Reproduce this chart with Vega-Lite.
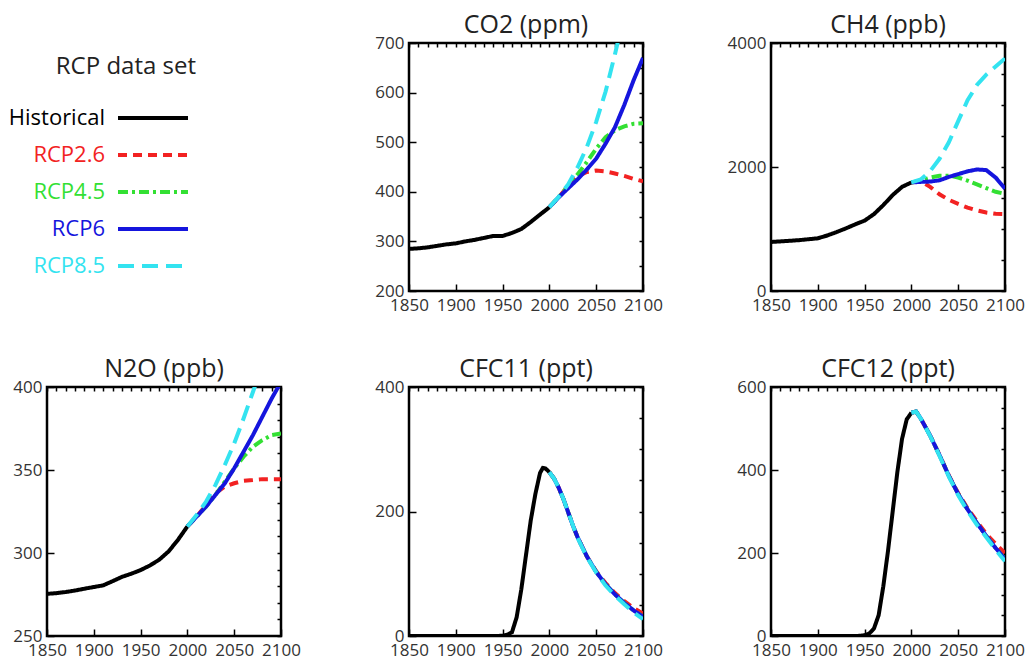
{
  "$schema": "https://vega.github.io/schema/vega-lite/v6.json",
  "padding": {"left": 11, "top": 11, "right": 0, "bottom": 3},
  "background": "white",
  "bounds": "flush",
  "config": {
    "font": "Open Sans",
    "view": {"stroke": "#000", "strokeWidth": 2.5},
    "axis": {"grid": false, "domain": false, "title": null, "labelFontSize": 17, "labelColor": "#333", "tickColor": "#000", "tickWidth": 1.5, "labelFlush": false, "labelOverlap": false},
    "title": {"fontSize": 25, "fontWeight": "normal", "color": "#222", "offset": -4},
    "legend": {"orient": "none", "legendX": 9, "legendY": 12, "labelAlign": "right", "labelOffset": -64, "labelFontSize": 22, "labelLimit": 300, "titleFontSize": 24, "titleFontWeight": "normal", "titleColor": "#222", "titleAnchor": "end", "titlePadding": 23, "symbolType": "M-2.5,0H2.5", "symbolSize": 784, "symbolStrokeWidth": 4, "rowPadding": 10}
  },
  "data": {"values": [
    {"gas":"CO2","series":"Historical","year":1850,"value":285},
    {"gas":"CO2","series":"Historical","year":1860,"value":286},
    {"gas":"CO2","series":"Historical","year":1870,"value":288},
    {"gas":"CO2","series":"Historical","year":1880,"value":291},
    {"gas":"CO2","series":"Historical","year":1890,"value":294},
    {"gas":"CO2","series":"Historical","year":1900,"value":296},
    {"gas":"CO2","series":"Historical","year":1910,"value":300},
    {"gas":"CO2","series":"Historical","year":1920,"value":303},
    {"gas":"CO2","series":"Historical","year":1930,"value":307},
    {"gas":"CO2","series":"Historical","year":1940,"value":311},
    {"gas":"CO2","series":"Historical","year":1950,"value":311},
    {"gas":"CO2","series":"Historical","year":1960,"value":317},
    {"gas":"CO2","series":"Historical","year":1970,"value":325},
    {"gas":"CO2","series":"Historical","year":1980,"value":339},
    {"gas":"CO2","series":"Historical","year":1990,"value":354},
    {"gas":"CO2","series":"Historical","year":2000,"value":369},
    {"gas":"CO2","series":"RCP2.6","year":2000,"value":369},
    {"gas":"CO2","series":"RCP2.6","year":2010,"value":389},
    {"gas":"CO2","series":"RCP2.6","year":2020,"value":412},
    {"gas":"CO2","series":"RCP2.6","year":2030,"value":431},
    {"gas":"CO2","series":"RCP2.6","year":2040,"value":440},
    {"gas":"CO2","series":"RCP2.6","year":2050,"value":443},
    {"gas":"CO2","series":"RCP2.6","year":2060,"value":441},
    {"gas":"CO2","series":"RCP2.6","year":2070,"value":437},
    {"gas":"CO2","series":"RCP2.6","year":2080,"value":432},
    {"gas":"CO2","series":"RCP2.6","year":2090,"value":426},
    {"gas":"CO2","series":"RCP2.6","year":2100,"value":421},
    {"gas":"CO2","series":"RCP4.5","year":2000,"value":369},
    {"gas":"CO2","series":"RCP4.5","year":2010,"value":390},
    {"gas":"CO2","series":"RCP4.5","year":2020,"value":411},
    {"gas":"CO2","series":"RCP4.5","year":2030,"value":435},
    {"gas":"CO2","series":"RCP4.5","year":2040,"value":460},
    {"gas":"CO2","series":"RCP4.5","year":2050,"value":487},
    {"gas":"CO2","series":"RCP4.5","year":2060,"value":510},
    {"gas":"CO2","series":"RCP4.5","year":2070,"value":524},
    {"gas":"CO2","series":"RCP4.5","year":2080,"value":532},
    {"gas":"CO2","series":"RCP4.5","year":2090,"value":537},
    {"gas":"CO2","series":"RCP4.5","year":2100,"value":538},
    {"gas":"CO2","series":"RCP6","year":2000,"value":369},
    {"gas":"CO2","series":"RCP6","year":2010,"value":389},
    {"gas":"CO2","series":"RCP6","year":2020,"value":407},
    {"gas":"CO2","series":"RCP6","year":2030,"value":425},
    {"gas":"CO2","series":"RCP6","year":2040,"value":445},
    {"gas":"CO2","series":"RCP6","year":2050,"value":467},
    {"gas":"CO2","series":"RCP6","year":2060,"value":497},
    {"gas":"CO2","series":"RCP6","year":2070,"value":530},
    {"gas":"CO2","series":"RCP6","year":2080,"value":575},
    {"gas":"CO2","series":"RCP6","year":2090,"value":625},
    {"gas":"CO2","series":"RCP6","year":2100,"value":670},
    {"gas":"CO2","series":"RCP8.5","year":2000,"value":369},
    {"gas":"CO2","series":"RCP8.5","year":2010,"value":390},
    {"gas":"CO2","series":"RCP8.5","year":2020,"value":415},
    {"gas":"CO2","series":"RCP8.5","year":2030,"value":449},
    {"gas":"CO2","series":"RCP8.5","year":2040,"value":490},
    {"gas":"CO2","series":"RCP8.5","year":2050,"value":541},
    {"gas":"CO2","series":"RCP8.5","year":2060,"value":602},
    {"gas":"CO2","series":"RCP8.5","year":2070,"value":677},
    {"gas":"CO2","series":"RCP8.5","year":2080,"value":758},
    {"gas":"CO2","series":"RCP8.5","year":2090,"value":845},
    {"gas":"CO2","series":"RCP8.5","year":2100,"value":936},

    {"gas":"CH4","series":"Historical","year":1850,"value":791},
    {"gas":"CH4","series":"Historical","year":1860,"value":800},
    {"gas":"CH4","series":"Historical","year":1870,"value":810},
    {"gas":"CH4","series":"Historical","year":1880,"value":820},
    {"gas":"CH4","series":"Historical","year":1890,"value":835},
    {"gas":"CH4","series":"Historical","year":1900,"value":850},
    {"gas":"CH4","series":"Historical","year":1910,"value":895},
    {"gas":"CH4","series":"Historical","year":1920,"value":950},
    {"gas":"CH4","series":"Historical","year":1930,"value":1010},
    {"gas":"CH4","series":"Historical","year":1940,"value":1075},
    {"gas":"CH4","series":"Historical","year":1950,"value":1135},
    {"gas":"CH4","series":"Historical","year":1960,"value":1240},
    {"gas":"CH4","series":"Historical","year":1970,"value":1385},
    {"gas":"CH4","series":"Historical","year":1980,"value":1547},
    {"gas":"CH4","series":"Historical","year":1990,"value":1680},
    {"gas":"CH4","series":"Historical","year":2000,"value":1751},
    {"gas":"CH4","series":"RCP2.6","year":2000,"value":1751},
    {"gas":"CH4","series":"RCP2.6","year":2010,"value":1773},
    {"gas":"CH4","series":"RCP2.6","year":2020,"value":1680},
    {"gas":"CH4","series":"RCP2.6","year":2030,"value":1560},
    {"gas":"CH4","series":"RCP2.6","year":2040,"value":1470},
    {"gas":"CH4","series":"RCP2.6","year":2050,"value":1405},
    {"gas":"CH4","series":"RCP2.6","year":2060,"value":1345},
    {"gas":"CH4","series":"RCP2.6","year":2070,"value":1300},
    {"gas":"CH4","series":"RCP2.6","year":2080,"value":1265},
    {"gas":"CH4","series":"RCP2.6","year":2090,"value":1245},
    {"gas":"CH4","series":"RCP2.6","year":2100,"value":1240},
    {"gas":"CH4","series":"RCP4.5","year":2000,"value":1751},
    {"gas":"CH4","series":"RCP4.5","year":2010,"value":1780},
    {"gas":"CH4","series":"RCP4.5","year":2020,"value":1830},
    {"gas":"CH4","series":"RCP4.5","year":2030,"value":1860},
    {"gas":"CH4","series":"RCP4.5","year":2040,"value":1860},
    {"gas":"CH4","series":"RCP4.5","year":2050,"value":1830},
    {"gas":"CH4","series":"RCP4.5","year":2060,"value":1780},
    {"gas":"CH4","series":"RCP4.5","year":2070,"value":1720},
    {"gas":"CH4","series":"RCP4.5","year":2080,"value":1660},
    {"gas":"CH4","series":"RCP4.5","year":2090,"value":1600},
    {"gas":"CH4","series":"RCP4.5","year":2100,"value":1565},
    {"gas":"CH4","series":"RCP6","year":2000,"value":1751},
    {"gas":"CH4","series":"RCP6","year":2010,"value":1760},
    {"gas":"CH4","series":"RCP6","year":2020,"value":1765},
    {"gas":"CH4","series":"RCP6","year":2030,"value":1785},
    {"gas":"CH4","series":"RCP6","year":2040,"value":1840},
    {"gas":"CH4","series":"RCP6","year":2050,"value":1885},
    {"gas":"CH4","series":"RCP6","year":2060,"value":1930},
    {"gas":"CH4","series":"RCP6","year":2070,"value":1960},
    {"gas":"CH4","series":"RCP6","year":2080,"value":1950},
    {"gas":"CH4","series":"RCP6","year":2090,"value":1830},
    {"gas":"CH4","series":"RCP6","year":2100,"value":1650},
    {"gas":"CH4","series":"RCP8.5","year":2000,"value":1751},
    {"gas":"CH4","series":"RCP8.5","year":2010,"value":1798},
    {"gas":"CH4","series":"RCP8.5","year":2020,"value":1933},
    {"gas":"CH4","series":"RCP8.5","year":2030,"value":2132},
    {"gas":"CH4","series":"RCP8.5","year":2040,"value":2399},
    {"gas":"CH4","series":"RCP8.5","year":2050,"value":2740},
    {"gas":"CH4","series":"RCP8.5","year":2060,"value":3076},
    {"gas":"CH4","series":"RCP8.5","year":2070,"value":3322},
    {"gas":"CH4","series":"RCP8.5","year":2080,"value":3491},
    {"gas":"CH4","series":"RCP8.5","year":2090,"value":3620},
    {"gas":"CH4","series":"RCP8.5","year":2100,"value":3751},

    {"gas":"N2O","series":"Historical","year":1850,"value":275.4},
    {"gas":"N2O","series":"Historical","year":1860,"value":275.8},
    {"gas":"N2O","series":"Historical","year":1870,"value":276.5},
    {"gas":"N2O","series":"Historical","year":1880,"value":277.4},
    {"gas":"N2O","series":"Historical","year":1890,"value":278.5},
    {"gas":"N2O","series":"Historical","year":1900,"value":279.5},
    {"gas":"N2O","series":"Historical","year":1910,"value":280.5},
    {"gas":"N2O","series":"Historical","year":1920,"value":283},
    {"gas":"N2O","series":"Historical","year":1930,"value":285.6},
    {"gas":"N2O","series":"Historical","year":1940,"value":287.5},
    {"gas":"N2O","series":"Historical","year":1950,"value":289.7},
    {"gas":"N2O","series":"Historical","year":1960,"value":292.5},
    {"gas":"N2O","series":"Historical","year":1970,"value":296},
    {"gas":"N2O","series":"Historical","year":1980,"value":301},
    {"gas":"N2O","series":"Historical","year":1990,"value":308},
    {"gas":"N2O","series":"Historical","year":2000,"value":316},
    {"gas":"N2O","series":"RCP2.6","year":2000,"value":316},
    {"gas":"N2O","series":"RCP2.6","year":2010,"value":322},
    {"gas":"N2O","series":"RCP2.6","year":2020,"value":329},
    {"gas":"N2O","series":"RCP2.6","year":2030,"value":336},
    {"gas":"N2O","series":"RCP2.6","year":2040,"value":340},
    {"gas":"N2O","series":"RCP2.6","year":2050,"value":342},
    {"gas":"N2O","series":"RCP2.6","year":2060,"value":343.5},
    {"gas":"N2O","series":"RCP2.6","year":2070,"value":344},
    {"gas":"N2O","series":"RCP2.6","year":2080,"value":344.5},
    {"gas":"N2O","series":"RCP2.6","year":2090,"value":344.5},
    {"gas":"N2O","series":"RCP2.6","year":2100,"value":344.5},
    {"gas":"N2O","series":"RCP4.5","year":2000,"value":316},
    {"gas":"N2O","series":"RCP4.5","year":2010,"value":322},
    {"gas":"N2O","series":"RCP4.5","year":2020,"value":328},
    {"gas":"N2O","series":"RCP4.5","year":2030,"value":335},
    {"gas":"N2O","series":"RCP4.5","year":2040,"value":343},
    {"gas":"N2O","series":"RCP4.5","year":2050,"value":351},
    {"gas":"N2O","series":"RCP4.5","year":2060,"value":358},
    {"gas":"N2O","series":"RCP4.5","year":2070,"value":364},
    {"gas":"N2O","series":"RCP4.5","year":2080,"value":368},
    {"gas":"N2O","series":"RCP4.5","year":2090,"value":371},
    {"gas":"N2O","series":"RCP4.5","year":2100,"value":372},
    {"gas":"N2O","series":"RCP6","year":2000,"value":316},
    {"gas":"N2O","series":"RCP6","year":2010,"value":322},
    {"gas":"N2O","series":"RCP6","year":2020,"value":328},
    {"gas":"N2O","series":"RCP6","year":2030,"value":335},
    {"gas":"N2O","series":"RCP6","year":2040,"value":342},
    {"gas":"N2O","series":"RCP6","year":2050,"value":351},
    {"gas":"N2O","series":"RCP6","year":2060,"value":361},
    {"gas":"N2O","series":"RCP6","year":2070,"value":371},
    {"gas":"N2O","series":"RCP6","year":2080,"value":382},
    {"gas":"N2O","series":"RCP6","year":2090,"value":393},
    {"gas":"N2O","series":"RCP6","year":2100,"value":403},
    {"gas":"N2O","series":"RCP8.5","year":2000,"value":316},
    {"gas":"N2O","series":"RCP8.5","year":2010,"value":323},
    {"gas":"N2O","series":"RCP8.5","year":2020,"value":331},
    {"gas":"N2O","series":"RCP8.5","year":2030,"value":341},
    {"gas":"N2O","series":"RCP8.5","year":2040,"value":353},
    {"gas":"N2O","series":"RCP8.5","year":2050,"value":366},
    {"gas":"N2O","series":"RCP8.5","year":2060,"value":381},
    {"gas":"N2O","series":"RCP8.5","year":2070,"value":397},
    {"gas":"N2O","series":"RCP8.5","year":2080,"value":413},
    {"gas":"N2O","series":"RCP8.5","year":2090,"value":428},
    {"gas":"N2O","series":"RCP8.5","year":2100,"value":435},

    {"gas":"CFC11","series":"Historical","year":1850,"value":0},
    {"gas":"CFC11","series":"Historical","year":1900,"value":0},
    {"gas":"CFC11","series":"Historical","year":1945,"value":0},
    {"gas":"CFC11","series":"Historical","year":1950,"value":0.5},
    {"gas":"CFC11","series":"Historical","year":1955,"value":2},
    {"gas":"CFC11","series":"Historical","year":1960,"value":6},
    {"gas":"CFC11","series":"Historical","year":1965,"value":30},
    {"gas":"CFC11","series":"Historical","year":1970,"value":75},
    {"gas":"CFC11","series":"Historical","year":1975,"value":130},
    {"gas":"CFC11","series":"Historical","year":1980,"value":185},
    {"gas":"CFC11","series":"Historical","year":1985,"value":228},
    {"gas":"CFC11","series":"Historical","year":1990,"value":262},
    {"gas":"CFC11","series":"Historical","year":1993,"value":270},
    {"gas":"CFC11","series":"Historical","year":1996,"value":269},
    {"gas":"CFC11","series":"Historical","year":2000,"value":263},
    {"gas":"CFC11","series":"RCP2.6","year":2000,"value":263},
    {"gas":"CFC11","series":"RCP2.6","year":2005,"value":253},
    {"gas":"CFC11","series":"RCP2.6","year":2010,"value":238},
    {"gas":"CFC11","series":"RCP2.6","year":2015,"value":220},
    {"gas":"CFC11","series":"RCP2.6","year":2020,"value":199},
    {"gas":"CFC11","series":"RCP2.6","year":2025,"value":178},
    {"gas":"CFC11","series":"RCP2.6","year":2030,"value":159},
    {"gas":"CFC11","series":"RCP2.6","year":2040,"value":128},
    {"gas":"CFC11","series":"RCP2.6","year":2050,"value":104},
    {"gas":"CFC11","series":"RCP2.6","year":2060,"value":85},
    {"gas":"CFC11","series":"RCP2.6","year":2070,"value":69},
    {"gas":"CFC11","series":"RCP2.6","year":2080,"value":56},
    {"gas":"CFC11","series":"RCP2.6","year":2090,"value":45},
    {"gas":"CFC11","series":"RCP2.6","year":2100,"value":36},
    {"gas":"CFC11","series":"RCP4.5","year":2000,"value":263},
    {"gas":"CFC11","series":"RCP4.5","year":2005,"value":253},
    {"gas":"CFC11","series":"RCP4.5","year":2010,"value":238},
    {"gas":"CFC11","series":"RCP4.5","year":2015,"value":220},
    {"gas":"CFC11","series":"RCP4.5","year":2020,"value":199},
    {"gas":"CFC11","series":"RCP4.5","year":2025,"value":178},
    {"gas":"CFC11","series":"RCP4.5","year":2030,"value":159},
    {"gas":"CFC11","series":"RCP4.5","year":2040,"value":128},
    {"gas":"CFC11","series":"RCP4.5","year":2050,"value":103},
    {"gas":"CFC11","series":"RCP4.5","year":2060,"value":83},
    {"gas":"CFC11","series":"RCP4.5","year":2070,"value":67},
    {"gas":"CFC11","series":"RCP4.5","year":2080,"value":53},
    {"gas":"CFC11","series":"RCP4.5","year":2090,"value":41},
    {"gas":"CFC11","series":"RCP4.5","year":2100,"value":31},
    {"gas":"CFC11","series":"RCP6","year":2000,"value":263},
    {"gas":"CFC11","series":"RCP6","year":2005,"value":253},
    {"gas":"CFC11","series":"RCP6","year":2010,"value":238},
    {"gas":"CFC11","series":"RCP6","year":2015,"value":220},
    {"gas":"CFC11","series":"RCP6","year":2020,"value":199},
    {"gas":"CFC11","series":"RCP6","year":2025,"value":178},
    {"gas":"CFC11","series":"RCP6","year":2030,"value":159},
    {"gas":"CFC11","series":"RCP6","year":2040,"value":128},
    {"gas":"CFC11","series":"RCP6","year":2050,"value":103},
    {"gas":"CFC11","series":"RCP6","year":2060,"value":83},
    {"gas":"CFC11","series":"RCP6","year":2070,"value":67},
    {"gas":"CFC11","series":"RCP6","year":2080,"value":53},
    {"gas":"CFC11","series":"RCP6","year":2090,"value":41},
    {"gas":"CFC11","series":"RCP6","year":2100,"value":31},
    {"gas":"CFC11","series":"RCP8.5","year":2000,"value":263},
    {"gas":"CFC11","series":"RCP8.5","year":2005,"value":253},
    {"gas":"CFC11","series":"RCP8.5","year":2010,"value":238},
    {"gas":"CFC11","series":"RCP8.5","year":2015,"value":220},
    {"gas":"CFC11","series":"RCP8.5","year":2020,"value":199},
    {"gas":"CFC11","series":"RCP8.5","year":2025,"value":178},
    {"gas":"CFC11","series":"RCP8.5","year":2030,"value":158},
    {"gas":"CFC11","series":"RCP8.5","year":2040,"value":127},
    {"gas":"CFC11","series":"RCP8.5","year":2050,"value":102},
    {"gas":"CFC11","series":"RCP8.5","year":2060,"value":81},
    {"gas":"CFC11","series":"RCP8.5","year":2070,"value":65},
    {"gas":"CFC11","series":"RCP8.5","year":2080,"value":51},
    {"gas":"CFC11","series":"RCP8.5","year":2090,"value":38},
    {"gas":"CFC11","series":"RCP8.5","year":2100,"value":27},

    {"gas":"CFC12","series":"Historical","year":1850,"value":0},
    {"gas":"CFC12","series":"Historical","year":1900,"value":0},
    {"gas":"CFC12","series":"Historical","year":1940,"value":0},
    {"gas":"CFC12","series":"Historical","year":1945,"value":0.5},
    {"gas":"CFC12","series":"Historical","year":1950,"value":2},
    {"gas":"CFC12","series":"Historical","year":1955,"value":6},
    {"gas":"CFC12","series":"Historical","year":1960,"value":18},
    {"gas":"CFC12","series":"Historical","year":1965,"value":50},
    {"gas":"CFC12","series":"Historical","year":1970,"value":120},
    {"gas":"CFC12","series":"Historical","year":1975,"value":205},
    {"gas":"CFC12","series":"Historical","year":1980,"value":300},
    {"gas":"CFC12","series":"Historical","year":1985,"value":395},
    {"gas":"CFC12","series":"Historical","year":1990,"value":475},
    {"gas":"CFC12","series":"Historical","year":1995,"value":522},
    {"gas":"CFC12","series":"Historical","year":2000,"value":538},
    {"gas":"CFC12","series":"RCP2.6","year":2000,"value":538},
    {"gas":"CFC12","series":"RCP2.6","year":2005,"value":541},
    {"gas":"CFC12","series":"RCP2.6","year":2010,"value":524},
    {"gas":"CFC12","series":"RCP2.6","year":2020,"value":483},
    {"gas":"CFC12","series":"RCP2.6","year":2030,"value":436},
    {"gas":"CFC12","series":"RCP2.6","year":2040,"value":387},
    {"gas":"CFC12","series":"RCP2.6","year":2050,"value":344},
    {"gas":"CFC12","series":"RCP2.6","year":2060,"value":308},
    {"gas":"CFC12","series":"RCP2.6","year":2070,"value":276},
    {"gas":"CFC12","series":"RCP2.6","year":2080,"value":246},
    {"gas":"CFC12","series":"RCP2.6","year":2090,"value":222},
    {"gas":"CFC12","series":"RCP2.6","year":2100,"value":200},
    {"gas":"CFC12","series":"RCP4.5","year":2000,"value":538},
    {"gas":"CFC12","series":"RCP4.5","year":2005,"value":541},
    {"gas":"CFC12","series":"RCP4.5","year":2010,"value":524},
    {"gas":"CFC12","series":"RCP4.5","year":2020,"value":483},
    {"gas":"CFC12","series":"RCP4.5","year":2030,"value":436},
    {"gas":"CFC12","series":"RCP4.5","year":2040,"value":386},
    {"gas":"CFC12","series":"RCP4.5","year":2050,"value":342},
    {"gas":"CFC12","series":"RCP4.5","year":2060,"value":305},
    {"gas":"CFC12","series":"RCP4.5","year":2070,"value":272},
    {"gas":"CFC12","series":"RCP4.5","year":2080,"value":241},
    {"gas":"CFC12","series":"RCP4.5","year":2090,"value":212},
    {"gas":"CFC12","series":"RCP4.5","year":2100,"value":185},
    {"gas":"CFC12","series":"RCP6","year":2000,"value":538},
    {"gas":"CFC12","series":"RCP6","year":2005,"value":541},
    {"gas":"CFC12","series":"RCP6","year":2010,"value":524},
    {"gas":"CFC12","series":"RCP6","year":2020,"value":483},
    {"gas":"CFC12","series":"RCP6","year":2030,"value":436},
    {"gas":"CFC12","series":"RCP6","year":2040,"value":386},
    {"gas":"CFC12","series":"RCP6","year":2050,"value":342},
    {"gas":"CFC12","series":"RCP6","year":2060,"value":305},
    {"gas":"CFC12","series":"RCP6","year":2070,"value":272},
    {"gas":"CFC12","series":"RCP6","year":2080,"value":241},
    {"gas":"CFC12","series":"RCP6","year":2090,"value":212},
    {"gas":"CFC12","series":"RCP6","year":2100,"value":185},
    {"gas":"CFC12","series":"RCP8.5","year":2000,"value":538},
    {"gas":"CFC12","series":"RCP8.5","year":2005,"value":541},
    {"gas":"CFC12","series":"RCP8.5","year":2010,"value":524},
    {"gas":"CFC12","series":"RCP8.5","year":2020,"value":482},
    {"gas":"CFC12","series":"RCP8.5","year":2030,"value":434},
    {"gas":"CFC12","series":"RCP8.5","year":2040,"value":384},
    {"gas":"CFC12","series":"RCP8.5","year":2050,"value":339},
    {"gas":"CFC12","series":"RCP8.5","year":2060,"value":301},
    {"gas":"CFC12","series":"RCP8.5","year":2070,"value":268},
    {"gas":"CFC12","series":"RCP8.5","year":2080,"value":238},
    {"gas":"CFC12","series":"RCP8.5","year":2090,"value":208},
    {"gas":"CFC12","series":"RCP8.5","year":2100,"value":180}
  ]},
  "columns": 3,
  "spacing": {"row": 96, "column": 128},
  "resolve": {"scale": {"x": "independent", "y": "independent", "color": "shared", "strokeDash": "shared"}},
  "concat": [
    {
      "width": 234, "height": 248,
      "view": {"stroke": null},
      "data": {"values": [{"note": ""}]},
      "mark": {"type": "text", "text": ""}
    },
    {
      "title": "CO2 (ppm)",
      "width": 234, "height": 248,
      "transform": [{"filter": "datum.gas === 'CO2'"}],
      "layer": [
        {"mark": {"type": "line", "strokeWidth": 4, "clip": true},
         "encoding": {
           "x": {"field": "year", "type": "quantitative", "scale": {"domain": [1850, 2100], "nice": false}, "axis": {"orient": "bottom", "values": [1850,1900,1950,2000,2050,2100], "format": "d", "tickSize": -7, "labelPadding": 13}},
           "y": {"field": "value", "type": "quantitative", "scale": {"domain": [200, 700], "nice": false, "zero": false}, "axis": {"orient": "left", "values": [200,300,400,500,600,700], "tickSize": -7, "labelPadding": 12}},
           "color": {"field": "series", "type": "nominal", "scale": {"domain": ["Historical","RCP2.6","RCP4.5","RCP6","RCP8.5"], "range": ["#000000","#f22222","#33e033","#1515dd","#33e3f0"]}, "legend": {"title": "RCP data set", "labelColor": {"expr": "scale('color', datum.value)"}}},
           "strokeDash": {"field": "series", "type": "nominal", "scale": {"domain": ["Historical","RCP2.6","RCP4.5","RCP6","RCP8.5"], "range": [[1,0],[9,6],[10,4,3,4],[1,0],[16,8]]}, "legend": {"title": "RCP data set"}}
         }},
        {"transform": [{"filter": "datum.series === 'Historical'"}],
         "mark": {"type": "point", "opacity": 0},
         "encoding": {
           "x": {"field": "year", "type": "quantitative", "axis": {"orient": "top", "values": [1850,1860,1870,1880,1890,1900,1910,1920,1930,1940,1950,1960,1970,1980,1990,2000,2010,2020,2030,2040,2050,2060,2070,2080,2090,2100], "labels": false, "tickSize": -4}},
           "y": {"field": "value", "type": "quantitative", "axis": {"orient": "right", "values": [200,250,300,350,400,450,500,550,600,650,700], "labels": false, "tickSize": -4}}
         }}
      ],
      "resolve": {"axis": {"x": "independent", "y": "independent"}}
    },
    {
      "title": "CH4 (ppb)",
      "width": 234, "height": 248,
      "transform": [{"filter": "datum.gas === 'CH4'"}],
      "layer": [
        {"mark": {"type": "line", "strokeWidth": 4, "clip": true},
         "encoding": {
           "x": {"field": "year", "type": "quantitative", "scale": {"domain": [1850, 2100], "nice": false}, "axis": {"orient": "bottom", "values": [1850,1900,1950,2000,2050,2100], "format": "d", "tickSize": -7, "labelPadding": 13}},
           "y": {"field": "value", "type": "quantitative", "scale": {"domain": [0, 4000], "nice": false}, "axis": {"orient": "left", "values": [0,2000,4000], "format": "d", "tickSize": -7, "labelPadding": 12}},
           "color": {"field": "series", "type": "nominal", "scale": {"domain": ["Historical","RCP2.6","RCP4.5","RCP6","RCP8.5"], "range": ["#000000","#f22222","#33e033","#1515dd","#33e3f0"]}, "legend": {"title": "RCP data set", "labelColor": {"expr": "scale('color', datum.value)"}}},
           "strokeDash": {"field": "series", "type": "nominal", "scale": {"domain": ["Historical","RCP2.6","RCP4.5","RCP6","RCP8.5"], "range": [[1,0],[9,6],[10,4,3,4],[1,0],[16,8]]}, "legend": {"title": "RCP data set"}}
         }},
        {"transform": [{"filter": "datum.series === 'Historical'"}],
         "mark": {"type": "point", "opacity": 0},
         "encoding": {
           "x": {"field": "year", "type": "quantitative", "axis": {"orient": "top", "values": [1850,1860,1870,1880,1890,1900,1910,1920,1930,1940,1950,1960,1970,1980,1990,2000,2010,2020,2030,2040,2050,2060,2070,2080,2090,2100], "labels": false, "tickSize": -4}},
           "y": {"field": "value", "type": "quantitative", "axis": {"orient": "right", "values": [0,500,1000,1500,2000,2500,3000,3500,4000], "labels": false, "tickSize": -4}}
         }}
      ],
      "resolve": {"axis": {"x": "independent", "y": "independent"}}
    },
    {
      "title": "N2O (ppb)",
      "width": 234, "height": 249,
      "transform": [{"filter": "datum.gas === 'N2O'"}],
      "layer": [
        {"mark": {"type": "line", "strokeWidth": 4, "clip": true},
         "encoding": {
           "x": {"field": "year", "type": "quantitative", "scale": {"domain": [1850, 2100], "nice": false}, "axis": {"orient": "bottom", "values": [1850,1900,1950,2000,2050,2100], "format": "d", "tickSize": -7, "labelPadding": 13}},
           "y": {"field": "value", "type": "quantitative", "scale": {"domain": [250, 400], "nice": false, "zero": false}, "axis": {"orient": "left", "values": [250,300,350,400], "tickSize": -7, "labelPadding": 12}},
           "color": {"field": "series", "type": "nominal", "scale": {"domain": ["Historical","RCP2.6","RCP4.5","RCP6","RCP8.5"], "range": ["#000000","#f22222","#33e033","#1515dd","#33e3f0"]}, "legend": {"title": "RCP data set", "labelColor": {"expr": "scale('color', datum.value)"}}},
           "strokeDash": {"field": "series", "type": "nominal", "scale": {"domain": ["Historical","RCP2.6","RCP4.5","RCP6","RCP8.5"], "range": [[1,0],[9,6],[10,4,3,4],[1,0],[16,8]]}, "legend": {"title": "RCP data set"}}
         }},
        {"transform": [{"filter": "datum.series === 'Historical'"}],
         "mark": {"type": "point", "opacity": 0},
         "encoding": {
           "x": {"field": "year", "type": "quantitative", "axis": {"orient": "top", "values": [1850,1860,1870,1880,1890,1900,1910,1920,1930,1940,1950,1960,1970,1980,1990,2000,2010,2020,2030,2040,2050,2060,2070,2080,2090,2100], "labels": false, "tickSize": -4}},
           "y": {"field": "value", "type": "quantitative", "axis": {"orient": "right", "values": [250,260,270,280,290,300,310,320,330,340,350,360,370,380,390,400], "labels": false, "tickSize": -4}}
         }}
      ],
      "resolve": {"axis": {"x": "independent", "y": "independent"}}
    },
    {
      "title": "CFC11 (ppt)",
      "width": 234, "height": 249,
      "transform": [{"filter": "datum.gas === 'CFC11'"}],
      "layer": [
        {"mark": {"type": "line", "strokeWidth": 4, "clip": true},
         "encoding": {
           "x": {"field": "year", "type": "quantitative", "scale": {"domain": [1850, 2100], "nice": false}, "axis": {"orient": "bottom", "values": [1850,1900,1950,2000,2050,2100], "format": "d", "tickSize": -7, "labelPadding": 13}},
           "y": {"field": "value", "type": "quantitative", "scale": {"domain": [0, 400], "nice": false}, "axis": {"orient": "left", "values": [0,200,400], "tickSize": -7, "labelPadding": 12}},
           "color": {"field": "series", "type": "nominal", "scale": {"domain": ["Historical","RCP2.6","RCP4.5","RCP6","RCP8.5"], "range": ["#000000","#f22222","#33e033","#1515dd","#33e3f0"]}, "legend": {"title": "RCP data set", "labelColor": {"expr": "scale('color', datum.value)"}}},
           "strokeDash": {"field": "series", "type": "nominal", "scale": {"domain": ["Historical","RCP2.6","RCP4.5","RCP6","RCP8.5"], "range": [[1,0],[9,6],[10,4,3,4],[1,0],[16,8]]}, "legend": {"title": "RCP data set"}}
         }},
        {"transform": [{"filter": "datum.series === 'Historical'"}],
         "mark": {"type": "point", "opacity": 0},
         "encoding": {
           "x": {"field": "year", "type": "quantitative", "axis": {"orient": "top", "values": [1850,1860,1870,1880,1890,1900,1910,1920,1930,1940,1950,1960,1970,1980,1990,2000,2010,2020,2030,2040,2050,2060,2070,2080,2090,2100], "labels": false, "tickSize": -4}},
           "y": {"field": "value", "type": "quantitative", "axis": {"orient": "right", "values": [0,50,100,150,200,250,300,350,400], "labels": false, "tickSize": -4}}
         }}
      ],
      "resolve": {"axis": {"x": "independent", "y": "independent"}}
    },
    {
      "title": "CFC12 (ppt)",
      "width": 234, "height": 249,
      "transform": [{"filter": "datum.gas === 'CFC12'"}],
      "layer": [
        {"mark": {"type": "line", "strokeWidth": 4, "clip": true},
         "encoding": {
           "x": {"field": "year", "type": "quantitative", "scale": {"domain": [1850, 2100], "nice": false}, "axis": {"orient": "bottom", "values": [1850,1900,1950,2000,2050,2100], "format": "d", "tickSize": -7, "labelPadding": 13}},
           "y": {"field": "value", "type": "quantitative", "scale": {"domain": [0, 600], "nice": false}, "axis": {"orient": "left", "values": [0,200,400,600], "tickSize": -7, "labelPadding": 12}},
           "color": {"field": "series", "type": "nominal", "scale": {"domain": ["Historical","RCP2.6","RCP4.5","RCP6","RCP8.5"], "range": ["#000000","#f22222","#33e033","#1515dd","#33e3f0"]}, "legend": {"title": "RCP data set", "labelColor": {"expr": "scale('color', datum.value)"}}},
           "strokeDash": {"field": "series", "type": "nominal", "scale": {"domain": ["Historical","RCP2.6","RCP4.5","RCP6","RCP8.5"], "range": [[1,0],[9,6],[10,4,3,4],[1,0],[16,8]]}, "legend": {"title": "RCP data set"}}
         }},
        {"transform": [{"filter": "datum.series === 'Historical'"}],
         "mark": {"type": "point", "opacity": 0},
         "encoding": {
           "x": {"field": "year", "type": "quantitative", "axis": {"orient": "top", "values": [1850,1860,1870,1880,1890,1900,1910,1920,1930,1940,1950,1960,1970,1980,1990,2000,2010,2020,2030,2040,2050,2060,2070,2080,2090,2100], "labels": false, "tickSize": -4}},
           "y": {"field": "value", "type": "quantitative", "axis": {"orient": "right", "values": [0,50,100,150,200,250,300,350,400,450,500,550,600], "labels": false, "tickSize": -4}}
         }}
      ],
      "resolve": {"axis": {"x": "independent", "y": "independent"}}
    }
  ]
}
